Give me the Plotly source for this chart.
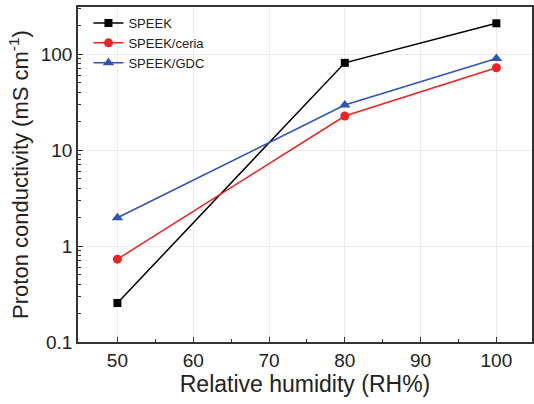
import plotly.graph_objects as go

rh = [50, 80, 100]
speek = [0.255, 81, 209]
ceria = [0.73, 22.6, 72]
gdc = [1.97, 29.4, 90]

series = [
    ("SPEEK", speek, "#000000", "square", 8),
    ("SPEEK/ceria", ceria, "#ee2222", "circle", 9),
    ("SPEEK/GDC", gdc, "#2d55b8", "triangle-up", 10),
]

minor_y = [m * 10 ** e for e in range(-1, 3) for m in range(2, 10)]

fig = go.Figure()
for name, ys, col, sym, sz in series:
    fig.add_trace(go.Scatter(
        x=rh, y=ys, name=name, mode="lines+markers",
        line=dict(color=col, width=1.5),
        marker=dict(symbol=sym, size=sz, color=col),
    ))

font = "Liberation Sans, Arial, sans-serif"
fig.update_layout(
    template="none",
    width=534, height=404,
    margin=dict(l=78, r=2, t=7, b=62),
    paper_bgcolor="white", plot_bgcolor="white",
    font=dict(family=font, color="#222222"),
    showlegend=True,
    legend=dict(x=0.023, y=0.997, xanchor="left", yanchor="top",
                bgcolor="rgba(0,0,0,0)", font=dict(size=13, family=font),
                tracegroupgap=0, itemwidth=30),
)
fig.update_xaxes(
    automargin=False,
    range=[44.8, 104.7], tickvals=[50, 60, 70, 80, 90, 100],
    ticks="inside", ticklen=5, tickcolor="#333333",
    minor=dict(tickvals=[55, 65, 75, 85, 95], ticks="inside", ticklen=3, tickcolor="#333333", showgrid=False),
    showline=True, linecolor="#333333", linewidth=1.5, mirror=True,
    showgrid=True, gridcolor="#ececec", gridwidth=1,
    tickfont=dict(size=19), zeroline=False,
    title=dict(text="Relative humidity (RH%)", font=dict(size=23), standoff=4),
)
fig.update_yaxes(
    automargin=False,
    type="log", range=[-1, 2.49],
    tickvals=[0.1, 1, 10, 100], ticktext=["0.1", "1", "10", "100"],
    ticks="inside", ticklen=5, tickcolor="#333333",
    minor=dict(tickvals=minor_y, ticks="inside", ticklen=3, tickcolor="#333333", showgrid=False),
    showline=True, linecolor="#333333", linewidth=1.5, mirror=True,
    showgrid=True, gridcolor="#ececec", gridwidth=1,
    tickfont=dict(size=19), zeroline=False,
    title=dict(text="Proton conductivity (mS cm<sup>-1</sup>)", font=dict(size=22), standoff=6),
)
fig.write_html("out.html", config={"displayModeBar": False},
               post_script="document.body.style.margin='0';")
